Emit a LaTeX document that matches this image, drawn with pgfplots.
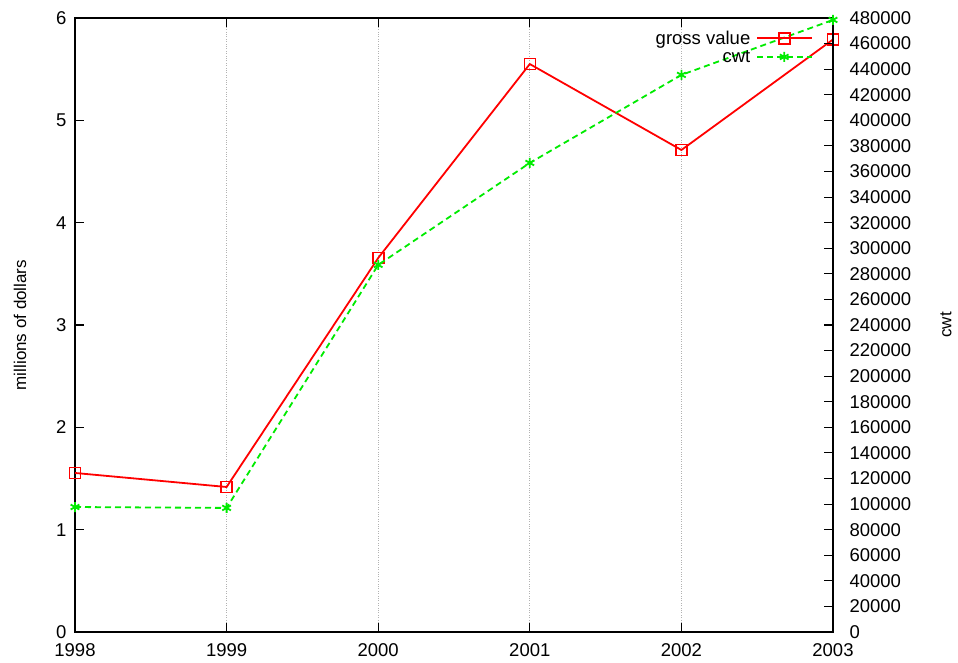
\documentclass[border=0pt]{standalone}
\usepackage{fontspec}
\setmainfont{Liberation Sans}
\usepackage{pgfplots}
\pgfplotsset{compat=1.18}
\definecolor{gred}{RGB}{255,0,0}
\definecolor{ggreen}{RGB}{0,235,0}
\pgfplotsset{
  every axis/.append style={
    scale only axis, width=758pt, height=614pt,
    xmin=1998, xmax=2003,
    tick align=inside, major tick length=9pt,
    axis line style={line width=1.2pt},
    every tick/.style={black, line width=1.1pt},
    tick label style={font=\fontsize{18.5}{22}\selectfont},
    label style={font=\fontsize{17}{20}\selectfont},
    /pgf/number format/assume math mode=true,
    /pgf/number format/1000 sep={},
    /pgf/number format/fixed,
    /pgf/number format/precision=0,
  },
}
\begin{document}
\begin{tikzpicture}
\begin{axis}[
  ymin=0, ymax=6, ytick={0,1,2,3,4,5,6},
  ytick pos=left,
  xtick={1998,1999,2000,2001,2002,2003},
  xmajorgrids, major grid style={gray!60, dotted, line width=0.7pt},
  ylabel={millions of dollars},
  ylabel style={at={(axis description cs:-0.0726,0.5)}, anchor=center},
  xticklabel style={yshift=-8pt},
  yticklabel style={xshift=-5pt},
]
\addplot[color=gred, draw=gred, line width=1.8pt, mark=square, mark size=5.5pt, mark options={solid, draw=gred, line width=1.6pt}]
coordinates {(1998,1.554) (1999,1.417) (2000,3.655) (2001,5.55) (2002,4.71) (2003,5.79)};
\end{axis}
\begin{axis}[
  axis x line=none, axis y line*=right,
  ymin=0, ymax=480000, ytick distance=20000,
  scaled y ticks=false,
  yticklabel style={xshift=13pt},
  ylabel={cwt},
  ylabel style={at={(axis description cs:1.149,0.5)}, anchor=center},
  legend style={draw=none, fill=none, at={(axis description cs:0.978,0.986)}, anchor=north east,
    font=\fontsize{18.5}{22}\selectfont, legend cell align=right,
    row sep=0.5pt, column sep=4pt},
  legend plot pos=right,
  legend image code/.code={\draw[mark repeat=2,mark phase=2,#1] plot coordinates {(0pt,0pt) (27pt,0pt) (55pt,0pt)};},
]
\addlegendimage{color=gred, draw=gred, line width=1.8pt, mark=square, mark size=5.5pt, mark options={solid, draw=gred, line width=1.6pt}}
\addlegendentry{gross value}
\addplot[color=ggreen, draw=ggreen, line width=1.8pt, dash pattern=on 6pt off 4pt, mark=asterisk, mark size=5pt, mark options={solid, draw=ggreen, line width=1.8pt}]
coordinates {(1998,97700) (1999,97000) (2000,287000) (2001,366700) (2002,435500) (2003,478500)};
\addlegendentry{cwt}
\end{axis}
\pgfresetboundingbox
\path[use as bounding box] (-75pt,-31pt) rectangle (883pt,632pt);
\end{tikzpicture}
\end{document}
